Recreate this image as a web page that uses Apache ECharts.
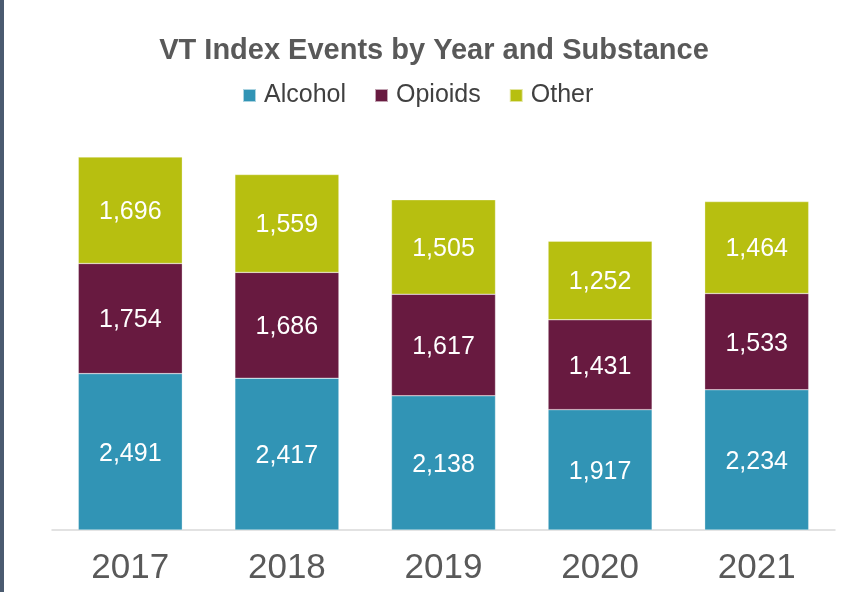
<!DOCTYPE html>
<html><head><meta charset="utf-8">
<script src="https://cdn.jsdelivr.net/npm/echarts@6/dist/echarts.min.js"></script>
<style>html,body{margin:0;padding:0;background:#fff}#c{width:846px;height:592px}</style>
</head><body><div id="c"></div>
<script>
const years = ['2017','2018','2019','2020','2021'];
const alcohol = [2491, 2417, 2138, 1917, 2234];
const opioids = [1754, 1686, 1617, 1431, 1533];
const other = [1696, 1559, 1505, 1252, 1464];
const seriesNames = ['Alcohol','Opioids','Other'];
const colors = ['#3194B5','#681A40','#B7BF10'];
const FONT = '"Liberation Sans", Arial, sans-serif';
const chart = echarts.init(document.getElementById('c'));
const mk = (name, data, color) => ({
  name, type:'bar', stack:'t', data, barWidth:104,
  itemStyle:{color, borderColor:'rgba(255,255,255,0.6)', borderWidth:0.5},
  label:{show:true, position:'inside', offset:[0,2], color:'#fff', fontFamily:FONT, fontSize:25,
    formatter:p=>p.value.toLocaleString('en-US')}
});
chart.setOption({
  animation:false,
  title:{text:'VT Index Events by Year and Substance', left:429, top:31, textAlign:'center',
    textStyle:{fontFamily:FONT, fontSize:29, fontWeight:'bold', color:'#595959'}},
  legend:{data:seriesNames, left:237, top:78, itemWidth:13, itemHeight:13, itemGap:28, icon:'rect',
    textStyle:{fontFamily:FONT, fontSize:25, color:'#404040', padding:[0,0,0,3]}},
  graphic:[{type:'rect', shape:{x:0,y:0,width:4,height:592}, style:{fill:'#4B5B70'}}],
  grid:{left:52, right:11, top:153.3, bottom:62},
  xAxis:{type:'category', data:years,
    axisLine:{lineStyle:{color:'#D9D9D9', width:1.5}}, axisTick:{show:false},
    axisLabel:{fontFamily:FONT, fontSize:35, color:'#595959', margin:21}},
  yAxis:{type:'value', min:0, max:6000, show:false, splitLine:{show:false}},
  series:[mk('Alcohol',alcohol,colors[0]), mk('Opioids',opioids,colors[1]), mk('Other',other,colors[2])]
});
</script></body></html>
